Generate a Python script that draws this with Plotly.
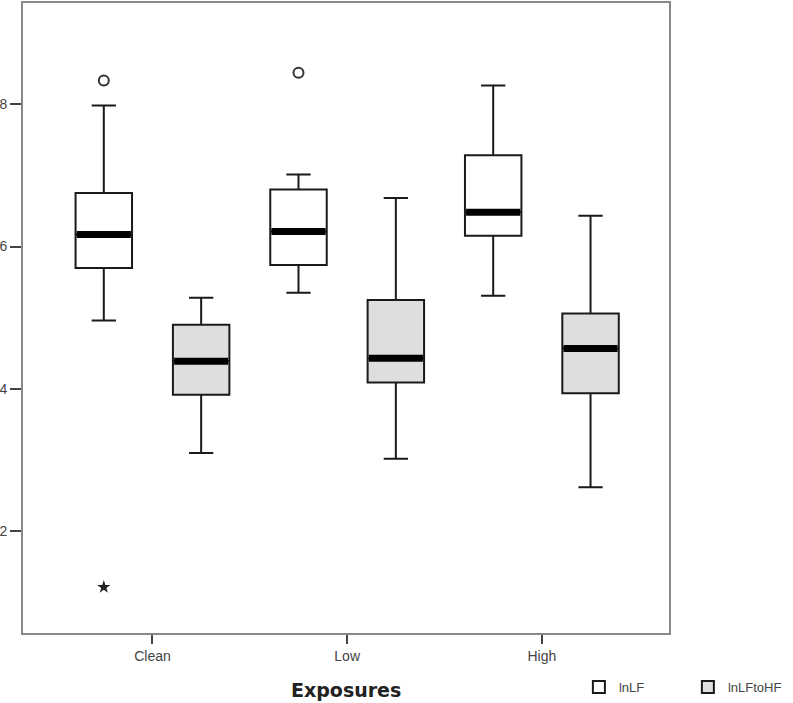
import plotly.graph_objects as go

categories = ["Clean", "Low", "High"]
series_names = ["lnLF", "lnLFtoHF"]
x_title = "Exposures"

# five-number summaries
lnLF_lowerfence = [4.96, 5.35, 5.31]
lnLF_q1 = [5.70, 5.74, 6.15]
lnLF_median = [6.17, 6.21, 6.48]
lnLF_q3 = [6.75, 6.80, 7.28]
lnLF_upperfence = [7.98, 7.01, 8.26]

hf_lowerfence = [3.10, 3.02, 2.62]
hf_q1 = [3.92, 4.09, 3.94]
hf_median = [4.39, 4.43, 4.57]
hf_q3 = [4.90, 5.25, 5.06]
hf_upperfence = [5.28, 6.68, 6.43]

# outliers (category, value)
circle_outlier_cat = ["Clean", "Low"]
circle_outlier_val = [8.33, 8.44]
star_outlier_cat = ["Clean"]
star_outlier_val = [1.22]

offset = 0.25
box_w = 0.29
pos = {c: i for i, c in enumerate(categories)}
lf_x = [pos[c] - offset for c in categories]
hf_x = [pos[c] + offset for c in categories]

fig = go.Figure()
line_col = "#1a1a1a"

fig.add_trace(go.Box(
    name=series_names[0], x=lf_x, q1=lnLF_q1, median=lnLF_median, q3=lnLF_q3,
    lowerfence=lnLF_lowerfence, upperfence=lnLF_upperfence,
    width=box_w, whiskerwidth=0.43, fillcolor="white",
    line=dict(color=line_col, width=2), boxpoints=False, hoverinfo="skip"))
fig.add_trace(go.Box(
    name=series_names[1], x=hf_x, q1=hf_q1, median=hf_median, q3=hf_q3,
    lowerfence=hf_lowerfence, upperfence=hf_upperfence,
    width=box_w, whiskerwidth=0.43, fillcolor="#dedede",
    line=dict(color=line_col, width=2), boxpoints=False, hoverinfo="skip"))

# thick median bars
for xs, meds in ((lf_x, lnLF_median), (hf_x, hf_median)):
    mx, my = [], []
    for x, m in zip(xs, meds):
        mx += [x - box_w / 2 + 0.006, x + box_w / 2 - 0.006, None]
        my += [m, m, None]
    fig.add_trace(go.Scatter(x=mx, y=my, mode="lines", showlegend=False,
                             line=dict(color="black", width=7), hoverinfo="skip"))

fig.add_trace(go.Scatter(
    x=[pos[c] - offset for c in circle_outlier_cat], y=circle_outlier_val,
    mode="markers", showlegend=False, hoverinfo="skip",
    marker=dict(symbol="circle-open", size=10, color="#333", line=dict(width=2))))
fig.add_trace(go.Scatter(
    x=[pos[c] - offset for c in star_outlier_cat], y=star_outlier_val,
    mode="markers", showlegend=False, hoverinfo="skip",
    marker=dict(symbol="star", size=10, color="#222")))

fig.add_annotation(text="<b>" + x_title + "</b>", xref="paper", yref="paper",
                   x=0.5, y=-0.091, xanchor="center", yanchor="middle",
                   showarrow=False,
                   font=dict(size=19, color="#222", family="DejaVu Sans, sans-serif"))

fig.update_layout(
    width=793, height=703,
    margin=dict(l=23, r=124, t=3, b=70, autoexpand=False),
    paper_bgcolor="white", plot_bgcolor="white",
    font=dict(family="Liberation Sans, Arial, sans-serif", size=14, color="#444"),
    boxmode="overlay",
    legend=dict(orientation="h", xref="container", yref="container",
                x=0.730, y=0.0228, xanchor="left", yanchor="middle",
                entrywidth=64, entrywidthmode="pixels",
                font=dict(size=13, color="#444"), bgcolor="rgba(0,0,0,0)"),
    xaxis=dict(range=[-0.665, 2.653], tickvals=list(range(len(categories))),
               ticktext=categories, showgrid=False, zeroline=False, automargin=False,
               ticks="outside", ticklen=9, tickwidth=2, tickcolor="#444",
               showline=True, linecolor="#888", linewidth=2, mirror=True),
    yaxis=dict(range=[0.575, 9.418], tickvals=[2, 4, 6, 8], showgrid=False,
               zeroline=False, automargin=False, ticks="outside", ticklen=11,
               tickwidth=2, tickcolor="#444", showline=True, linecolor="#888",
               linewidth=2, mirror=True),
)

fig.write_html("out.html", config={"displayModeBar": False},
               post_script="document.body.style.margin='0px';")
